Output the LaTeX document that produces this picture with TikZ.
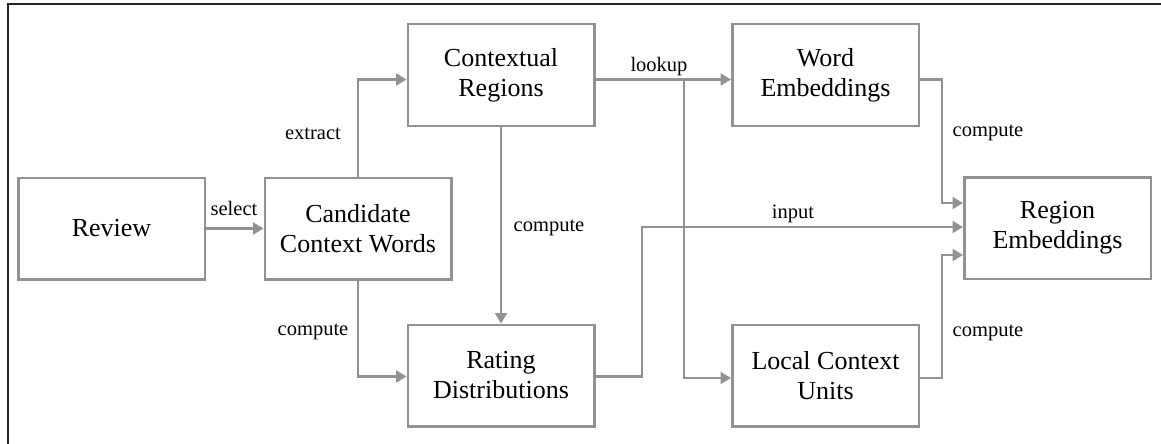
\documentclass[tikz,border=0pt]{standalone}
\usepackage{fontspec}
\setmainfont{Liberation Serif}
\usetikzlibrary{arrows.meta,calc,shadows}
\definecolor{linegray}{HTML}{929292}
\tikzset{
  stage/.style={draw=linegray, line width=2.5pt, fill=white,
    minimum width=186.5pt, minimum height=101.5pt, inner sep=0pt,
    align=center, font=\fontsize{26}{30}\selectfont,
    drop shadow={shadow xshift=1pt, shadow yshift=-1.6pt, fill=black!12, opacity=1}},
  flow/.style={draw=linegray, line width=2.2pt,
    -{Triangle[length=10.5pt,width=12pt]}},
  lbl/.style={anchor=base, inner sep=0pt, font=\fontsize{20.5}{24}\selectfont}
}
\begin{document}
\begin{tikzpicture}[x=1pt, y=-1pt]
  \useasboundingbox (0,0) rectangle (1161,444);
  % outer frame (top and left edges only)
  \draw[line width=1.5pt, black!85] (1161,4) -- (8,4) -- (8,444);

  % stages
  \node[stage] (rev) at (111.5,228.5) {Review};
  \node[stage] (cand) at (358,228.5) {Candidate\\Context Words};
  \node[stage] (ctx) at (501,75) {Contextual\\Regions};
  \node[stage] (rate) at (501,375.5) {Rating\\Distributions};
  \node[stage] (word) at (825.5,75) {Word\\Embeddings};
  \node[stage] (local) at (825.5,375.5) {Local Context\\Units};
  \node[stage] (region) at (1057.5,228) {Region\\Embeddings};

  % routing points
  \coordinate (ctxout) at ($(ctx.east)+(0,4.5)$);
  \coordinate (wordin) at ($(word.west)+(0,4.5)$);
  \coordinate (wordout) at ($(word.east)+(0,4.5)$);
  \coordinate (split) at (684,79.5);
  \coordinate (ratein) at ($(rate.west)+(0,1)$);
  \coordinate (localin) at ($(local.west)+(0,2.5)$);
  \coordinate (localout) at ($(local.east)+(0,2.5)$);
  \coordinate (reg1) at ($(region.west)+(0,-25)$);
  \coordinate (reg2) at ($(region.west)+(0,-1)$);
  \coordinate (reg3) at ($(region.west)+(0,27)$);

  % connectors
  \draw[flow] (rev) -- (cand);
  \draw[flow] (cand.north) |- ($(ctx.west)+(0,4.5)$);
  \draw[flow] (cand.south) |- (ratein);
  \draw[flow] (ctx.south) -- (rate.north);
  \draw[flow] (ctxout) -- (wordin);
  \draw[flow] (split) |- (localin);
  \draw[flow] (rate.east |- ratein) -- (642,376.5) |- (reg2);
  \draw[flow] (wordout) -- (942,79.5) |- (reg1);
  \draw[flow] (localout) -- (942,378) |- (reg3);

  % labels
  \node[lbl] (lselect) at (234,215) {select};
  \node[lbl] (lextract) at (313,139) {extract};
  \node[lbl] (lcomp1) at (313,335) {compute};
  \node[lbl] (lcomp2) at (549,231.5) {compute};
  \node[lbl] (llookup) at (659,71.5) {lookup};
  \node[lbl] (linput) at (793,218) {input};
  \node[lbl] (lcomp3) at (988,136) {compute};
  \node[lbl] (lcomp4) at (988,336) {compute};
\end{tikzpicture}
\end{document}
